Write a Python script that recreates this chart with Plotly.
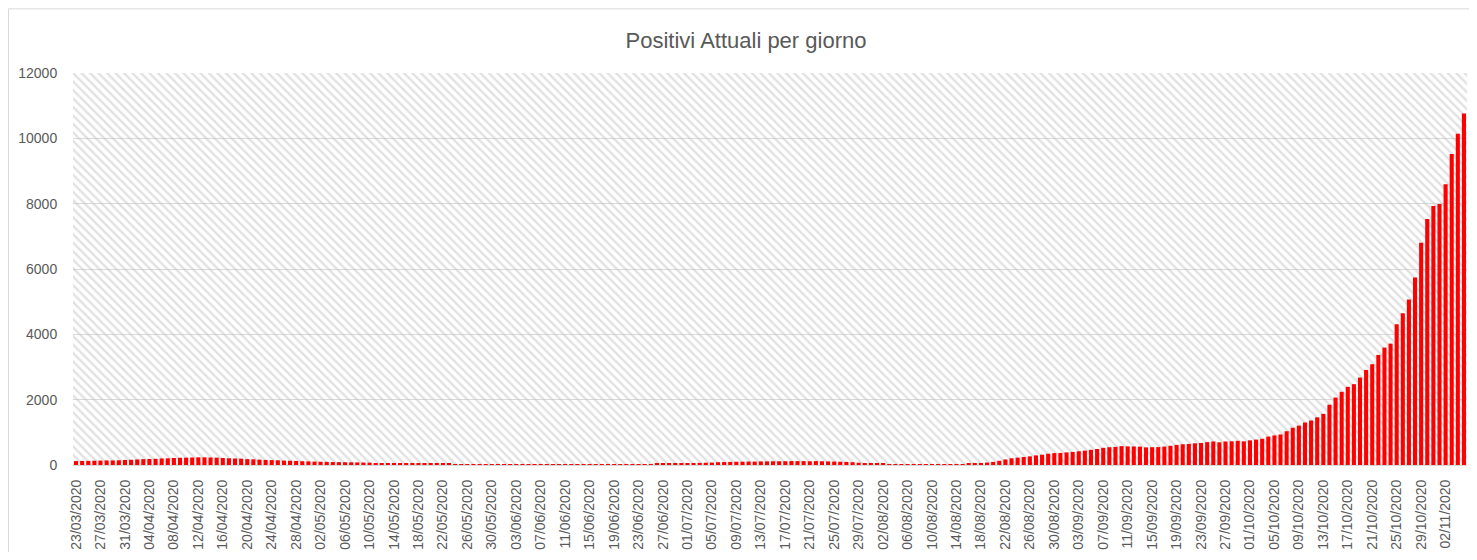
import pandas as pd
import plotly.graph_objects as go

# Categories: one bar per day
start_date = "2020-03-23"
end_date = "2020-11-05"
dates = [d.strftime("%d/%m/%Y") for d in pd.date_range(start_date, end_date, freq="D")]

# Values, by phase
first_wave = [120, 125, 125, 130, 135, 140, 140, 145, 155, 160,
              170, 180, 185, 190, 200, 205, 215, 220, 225, 230,
              235, 235, 230, 225, 215, 205, 200, 195, 180, 175,
              165, 155, 150, 145, 135, 130, 125, 115, 110, 105,
              100, 95]
decline = [90, 88, 85, 82, 80, 76, 72, 62, 60, 58, 56, 54, 52, 50, 48, 46, 45, 44, 42, 40,
           30, 28, 27, 26, 25, 24, 23, 22, 20, 20, 19, 18, 16, 15, 14, 13, 12, 12, 11, 10, 10, 9,
           8, 7, 6, 5, 5, 4, 4, 5]
summer_bump = [20, 25, 30, 35, 38, 40, 42, 45, 55, 60, 65, 70, 75, 85, 90, 95, 100, 100,
               105, 105, 110, 110, 115, 115, 115, 120, 120, 120, 115, 120, 115, 110, 105, 100,
               95, 85, 70, 55, 45, 40, 35, 30, 28, 26, 25, 24, 22, 20, 20, 19, 18, 20, 22, 25,
               35, 45, 60, 75, 95]
late_summer = [130, 170, 205, 225, 245, 265, 295, 315, 345,
               365, 370, 385, 400, 420, 440, 465, 490, 525, 545, 555, 578, 570, 567, 563, 540,
               545, 548, 565, 588, 615, 635, 645, 665, 675, 700, 720, 695, 720, 725, 740, 725,
               755, 778, 802, 870, 905, 935, 1035, 1140, 1205]
second_wave = [1300, 1362, 1460, 1565, 1845, 2065, 2240, 2393, 2474, 2677, 2911, 3085, 3370,
               3594, 3716, 4306, 4642, 5070, 5742, 6800, 7533, 7930, 7991, 8592, 9518, 10139, 10760]

values = first_wave + decline + summer_bump + late_summer + second_wave
assert len(values) == len(dates), (len(values), len(dates))

tick_labels = dates[::4]
y_ticks = [0, 2000, 4000, 6000, 8000, 10000, 12000]

TEXT = "#595959"
GRID = "#d9d9d9"
FONT = "Liberation Sans, Arial, sans-serif"

# figure geometry (page body has an 8px margin)
W, H = 1461, 544
ML, MR, MT, MB = 65, 2, 65, 85
PW = W - ML - MR
PH = H - MT - MB

fig = go.Figure()

# Hatched plot-area background (style element on a hidden axis pair)
fig.add_trace(go.Bar(
    x=[0.5], y=[1], width=[1], xaxis="x", yaxis="y",
    marker=dict(color="rgba(0,0,0,0)", line=dict(width=0),
                pattern=dict(shape="\\", fgcolor="#c4c4c4", bgcolor="rgba(255,255,255,0)",
                             size=6, solidity=0.4, fillmode="overlay")),
    hoverinfo="skip", showlegend=False,
))

# Data bars
fig.add_trace(go.Bar(
    x=dates, y=values, xaxis="x2", yaxis="y2",
    marker=dict(color="#ff0000", line=dict(width=0)),
    showlegend=False, name="Positivi Attuali",
))

fig.update_layout(
    width=W, height=H,
    margin=dict(l=ML, r=MR, t=MT, b=MB, pad=0),
    paper_bgcolor="white", plot_bgcolor="white",
    bargap=0.33,
    title=dict(text="Positivi Attuali per giorno", x=(746 - 8 - ML) / PW, xref="paper",
               xanchor="center", y=1 - 32 / H, yanchor="middle",
               font=dict(family=FONT, size=22, color=TEXT)),
    font=dict(family=FONT, color=TEXT),
    xaxis=dict(range=[0, 1], visible=False, fixedrange=True),
    yaxis=dict(range=[0, 1], visible=False, fixedrange=True),
    xaxis2=dict(overlaying="x", anchor="y2", type="category",
                tickmode="array", tickvals=tick_labels, ticktext=tick_labels,
                tickangle=-90, tickfont=dict(size=14, color=TEXT, family=FONT),
                showgrid=False, showline=False,
                ticks="outside", ticklen=8, tickcolor="rgba(0,0,0,0)",
                range=[-0.5, len(dates) - 0.5]),
    yaxis2=dict(overlaying="y", anchor="x2", side="left", range=[0, 12000],
                tickvals=y_ticks, tickformat="d",
                tickfont=dict(size=14, color=TEXT, family=FONT),
                showgrid=True, gridcolor=GRID, gridwidth=1,
                zeroline=True, zerolinecolor=GRID, zerolinewidth=1,
                showline=False, ticks="outside", ticklen=12, tickcolor="rgba(0,0,0,0)"),
    shapes=[dict(type="rect", xref="paper", yref="paper",
                 x0=(0.5 - ML) / PW, x1=(1468 - ML) / PW,
                 y0=(MT + PH - 700) / PH, y1=(MT + PH - 0.5) / PH,
                 line=dict(color=GRID, width=1), fillcolor="rgba(0,0,0,0)", layer="below")],
)

fig.write_html("out.html")
